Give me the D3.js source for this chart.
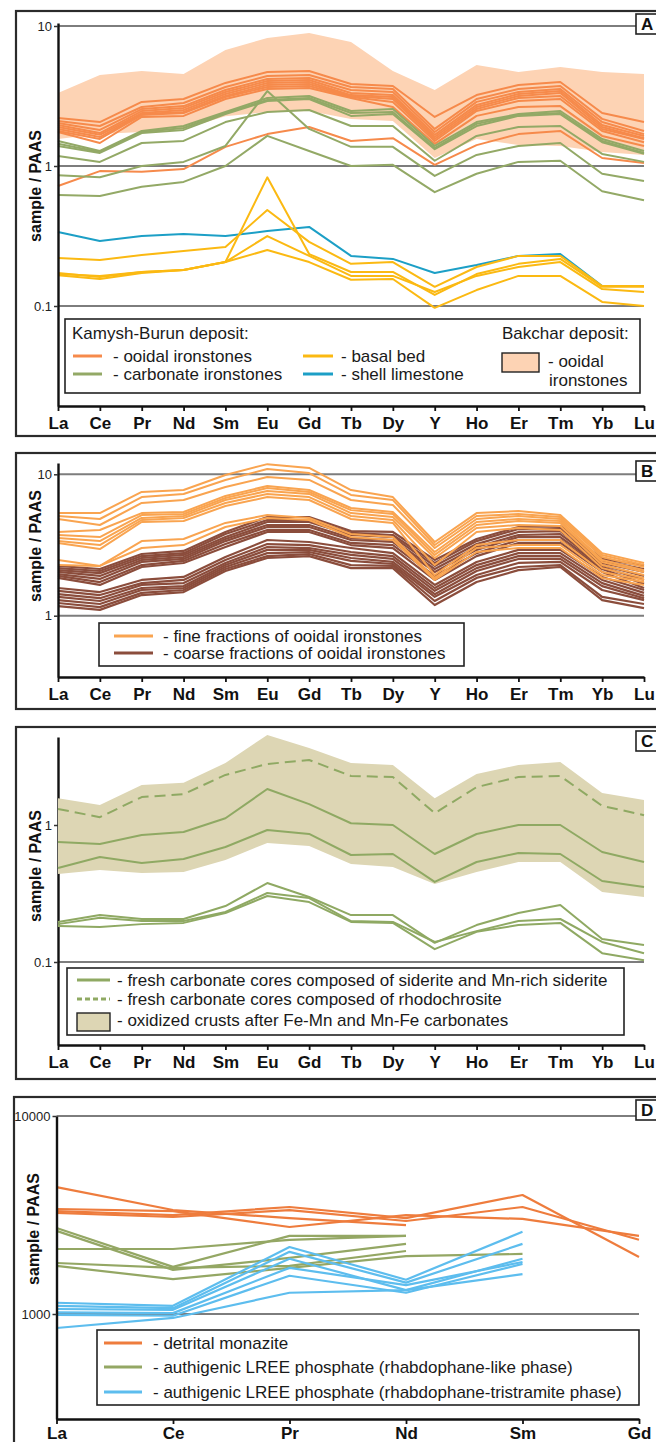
<!DOCTYPE html>
<html>
<head>
<meta charset="utf-8">
<script src="https://cdn.jsdelivr.net/npm/d3@7"></script>
<style>
  body { margin: 0; background: #fff; }
  svg { display: block; font-family: "Liberation Sans", Arial, Helvetica, sans-serif; }
</style>
</head>
<body>
<svg id="fig" width="656" height="1442"></svg>
<script>
// ---- element order on the x axes ----
const reeElements = ["La","Ce","Pr","Nd","Sm","Eu","Gd","Tb","Dy","Y","Ho","Er","Tm","Yb","Lu"];
const lreeElements = ["La","Ce","Pr","Nd","Sm","Gd"];

// ---- panel A: Kamysh-Burun and Bakchar deposits (sample / PAAS) ----
const ticksA = [10, 1, 0.1];
const tickLabelsA = ["10", "1", "0.1"];
const bakcharUpper = [3.32, 4.47, 4.77, 4.54, 6.74, 8.2, 8.9, 7.69, 4.77, 3.49, 5.27, 4.69, 5.1, 4.69, 4.54];
const bakcharLower = [1.56, 1.69, 1.75, 1.84, 2.27, 2.43, 2.47, 2.17, 2.1, 1.14, 1.56, 1.41, 1.39, 1.26, 1.2];
const kbOoidal = [
  [2.2, 2.06, 2.87, 3.01, 3.92, 4.69, 4.77, 3.85, 3.73, 2.24, 3.21, 3.79, 3.98, 2.39, 2.06],
  [2.1, 1.93, 2.64, 2.82, 3.67, 4.39, 4.47, 3.67, 3.55, 1.84, 3.01, 3.55, 3.73, 2.17, 1.78],
  [2.03, 1.81, 2.55, 2.68, 3.49, 4.18, 4.25, 3.49, 3.38, 1.75, 2.87, 3.38, 3.55, 2.06, 1.69],
  [1.96, 1.72, 2.47, 2.6, 3.38, 4.05, 4.11, 3.32, 3.21, 1.67, 2.73, 3.27, 3.43, 1.96, 1.64],
  [1.9, 1.67, 2.39, 2.51, 3.27, 3.92, 3.98, 3.21, 3.11, 1.61, 2.64, 3.16, 3.32, 1.9, 1.58],
  [1.84, 1.61, 2.35, 2.43, 3.16, 3.79, 3.85, 3.16, 3.01, 1.56, 2.55, 3.06, 3.16, 1.84, 1.56],
  [1.78, 1.56, 2.31, 2.39, 3.11, 3.67, 3.73, 3.11, 2.87, 1.51, 2.47, 2.91, 3.01, 1.78, 1.48],
  [1.75, 1.46, 2.24, 2.28, 3.01, 3.55, 3.61, 3.06, 2.64, 1.44, 2.28, 2.64, 2.68, 1.64, 1.39],
  [0.72, 0.92, 0.91, 0.95, 1.37, 1.69, 1.9, 1.51, 1.58, 1.02, 1.41, 1.69, 1.78, 1.14, 1.05]
];
const kbCarbonate = [
  [1.51, 1.28, 1.78, 1.93, 2.43, 3.06, 3.16, 2.47, 2.55, 1.39, 2.06, 2.35, 2.47, 1.56, 1.28],
  [1.44, 1.26, 1.75, 1.87, 2.39, 2.96, 3.06, 2.39, 2.43, 1.34, 2.0, 2.31, 2.39, 1.51, 1.24],
  [1.39, 1.24, 1.72, 1.81, 2.35, 2.91, 3.01, 2.28, 2.35, 1.32, 1.93, 2.28, 2.35, 1.48, 1.22],
  [1.18, 1.07, 1.46, 1.51, 2.06, 2.43, 2.51, 1.93, 1.93, 1.09, 1.64, 1.9, 1.93, 1.22, 1.07],
  [0.86, 0.83, 1.0, 1.07, 1.39, 3.43, 1.84, 1.37, 1.37, 0.85, 1.2, 1.39, 1.46, 0.88, 0.78],
  [0.62, 0.61, 0.71, 0.77, 1.0, 1.64, 1.28, 1.0, 1.02, 0.65, 0.88, 1.07, 1.09, 0.66, 0.57]
];
const kbBasal = [
  [0.22, 0.213, 0.231, 0.247, 0.264, 0.485, 0.287, 0.2, 0.206, 0.137, 0.19, 0.228, 0.228, 0.139, 0.139],
  [0.172, 0.161, 0.175, 0.181, 0.206, 0.83, 0.235, 0.175, 0.175, 0.12, 0.169, 0.2, 0.217, 0.137, 0.137],
  [0.169, 0.164, 0.175, 0.181, 0.206, 0.316, 0.228, 0.164, 0.164, 0.126, 0.164, 0.19, 0.206, 0.132, 0.126],
  [0.166, 0.156, 0.172, 0.181, 0.206, 0.251, 0.206, 0.154, 0.156, 0.097, 0.13, 0.164, 0.164, 0.107, 0.1]
];
const kbShell = [
  [0.338, 0.291, 0.316, 0.327, 0.316, 0.343, 0.367, 0.228, 0.217, 0.172, 0.196, 0.228, 0.235, 0.139, 0.139]
];
const legendA = {
  kamyshTitle: "Kamysh-Burun deposit:",
  bakcharTitle: "Bakchar deposit:",
  ooidal: "- ooidal ironstones",
  carbonate: "- carbonate ironstones",
  basal: "- basal bed",
  shell: "- shell limestone",
  bakchar1: "- ooidal",
  bakchar2: "ironstones"
};

// ---- panel B: grain-size fractions of ooidal ironstones ----
const ticksB = [10, 1];
const tickLabelsB = ["10", "1"];
const fineFractions = [
  [5.32, 5.32, 7.5, 7.74, 9.89, 11.8, 11.1, 7.74, 6.9, 3.32, 5.32, 5.5, 5.15, 2.77, 2.36],
  [5.07, 4.83, 6.9, 7.26, 9.12, 10.9, 10.2, 7.14, 6.58, 3.16, 5.07, 5.24, 4.99, 2.69, 2.28],
  [4.83, 4.38, 6.27, 6.58, 8.13, 9.57, 9.12, 6.58, 6.07, 3.01, 4.83, 5.07, 4.83, 2.6, 2.21],
  [3.91, 4.04, 5.32, 5.41, 7.03, 8.27, 7.74, 5.78, 5.41, 2.82, 4.6, 4.83, 4.67, 2.48, 2.1],
  [3.72, 3.6, 5.15, 5.24, 6.8, 8.0, 7.5, 5.58, 5.24, 2.69, 4.38, 4.67, 4.53, 2.4, 2.04],
  [3.54, 3.37, 4.91, 5.07, 6.58, 7.62, 7.26, 5.32, 4.99, 2.56, 4.17, 4.38, 4.31, 2.28, 1.94],
  [3.37, 3.16, 4.75, 4.91, 6.27, 7.26, 6.9, 5.07, 4.75, 2.28, 3.91, 4.17, 4.04, 2.17, 1.85],
  [3.27, 2.96, 4.6, 4.67, 5.97, 6.9, 6.58, 4.83, 4.53, 1.94, 3.16, 3.43, 3.43, 2.04, 1.79],
  [2.48, 2.25, 3.37, 3.49, 4.53, 5.15, 4.91, 3.78, 3.6, 1.85, 3.01, 3.16, 3.16, 1.94, 1.73],
  [2.28, 2.25, 3.01, 3.16, 4.24, 4.91, 4.75, 3.6, 3.43, 1.79, 2.82, 3.01, 3.01, 1.85, 1.65]
];
const coarseFractions = [
  [2.25, 2.14, 2.73, 2.87, 3.91, 4.99, 4.99, 3.97, 3.91, 2.48, 3.49, 4.24, 4.31, 2.52, 2.25],
  [2.17, 2.07, 2.64, 2.77, 3.78, 4.75, 4.75, 3.85, 3.72, 2.36, 3.37, 4.1, 4.17, 2.44, 2.14],
  [2.1, 2.0, 2.56, 2.69, 3.6, 4.6, 4.6, 3.72, 3.6, 2.25, 3.21, 3.91, 3.97, 2.36, 2.04],
  [2.04, 1.91, 2.48, 2.6, 3.49, 4.38, 4.38, 3.54, 3.43, 2.14, 3.06, 3.72, 3.78, 2.28, 1.91],
  [1.97, 1.82, 2.4, 2.52, 3.37, 4.24, 4.24, 3.43, 3.32, 2.04, 2.92, 3.6, 3.6, 2.21, 1.79],
  [1.91, 1.73, 2.28, 2.44, 3.21, 4.04, 4.04, 3.27, 3.16, 1.91, 2.77, 3.43, 3.43, 2.14, 1.68],
  [1.85, 1.65, 2.21, 2.36, 3.06, 3.91, 3.91, 3.16, 3.01, 1.79, 2.64, 3.27, 3.27, 2.04, 1.57],
  [1.57, 1.47, 1.79, 1.88, 2.6, 3.43, 3.32, 3.01, 2.77, 1.65, 2.4, 2.92, 2.92, 1.88, 1.52],
  [1.5, 1.4, 1.7, 1.79, 2.48, 3.21, 3.16, 2.82, 2.64, 1.57, 2.28, 2.77, 2.77, 1.79, 1.45],
  [1.42, 1.33, 1.65, 1.7, 2.36, 3.06, 3.01, 2.69, 2.52, 1.5, 2.17, 2.64, 2.64, 1.7, 1.38],
  [1.36, 1.27, 1.57, 1.62, 2.28, 2.92, 2.92, 2.56, 2.4, 1.42, 2.07, 2.52, 2.52, 1.62, 1.33],
  [1.29, 1.21, 1.52, 1.57, 2.21, 2.77, 2.82, 2.44, 2.32, 1.36, 1.94, 2.36, 2.4, 1.52, 1.29],
  [1.23, 1.15, 1.45, 1.52, 2.14, 2.64, 2.73, 2.28, 2.25, 1.27, 1.85, 2.21, 2.28, 1.36, 1.21],
  [1.17, 1.1, 1.4, 1.47, 2.07, 2.56, 2.64, 2.17, 2.17, 1.19, 1.73, 2.1, 2.21, 1.29, 1.13]
];
const legendB = {
  fine: "- fine fractions of ooidal ironstones",
  coarse: "- coarse fractions of ooidal ironstones"
};

// ---- panel C: carbonate cores and oxidized crusts ----
const ticksC = [1, 0.1];
const tickLabelsC = ["1", "0.1"];
const crustUpper = [1.57, 1.4, 1.96, 2.03, 2.84, 4.54, 3.65, 2.84, 2.74, 1.57, 2.36, 2.74, 2.88, 1.71, 1.52];
const crustLower = [0.439, 0.47, 0.447, 0.454, 0.556, 0.739, 0.703, 0.519, 0.494, 0.371, 0.454, 0.537, 0.537, 0.324, 0.298];
const rhodochrositeCores = [
  [1.31, 1.14, 1.6, 1.68, 2.32, 2.79, 2.98, 2.28, 2.24, 1.22, 1.89, 2.24, 2.28, 1.38, 1.18]
];
const sideriteCores = [
  [0.751, 0.727, 0.845, 0.889, 1.12, 1.83, 1.42, 1.03, 1.0, 0.614, 0.86, 1.0, 1.0, 0.635, 0.537],
  [0.485, 0.584, 0.528, 0.565, 0.691, 0.92, 0.86, 0.604, 0.614, 0.384, 0.537, 0.625, 0.614, 0.39, 0.353],
  [0.196, 0.22, 0.206, 0.206, 0.256, 0.377, 0.298, 0.22, 0.22, 0.138, 0.186, 0.228, 0.261, 0.147, 0.133],
  [0.189, 0.21, 0.199, 0.199, 0.232, 0.319, 0.293, 0.199, 0.196, 0.14, 0.168, 0.199, 0.206, 0.14, 0.116],
  [0.183, 0.18, 0.189, 0.193, 0.228, 0.303, 0.274, 0.196, 0.193, 0.124, 0.166, 0.186, 0.193, 0.116, 0.103]
];
const legendC = {
  siderite: "- fresh carbonate cores composed of siderite and Mn-rich siderite",
  rhodochrosite: "- fresh carbonate cores composed of rhodochrosite",
  crusts: "- oxidized crusts after Fe-Mn and Mn-Fe carbonates"
};

// ---- panel D: REE phosphates (null = not measured) ----
const ticksD = [10000, 1000];
const tickLabelsD = ["10000", "1000"];
const detritalMonazite = [
  [4375, 3350, 3050, 2810, null, null],
  [3390, 3310, 2750, 3160, 3020, 2480],
  [3310, 3160, 3470, 3050, 3990, 1940],
  [3240, 3090, 3350, 2950, 3470, 2370]
];
const rhabdophaneLike = [
  [2720, 1730, 2480, 2480, null, null],
  [2630, 1670, 1920, 2260, null, null],
  [2130, 2130, 2370, 2480, null, null],
  [1810, 1710, 1750, 2080, null, null],
  [1750, 1500, 1710, 1960, 2010, null]
];
const rhabdophaneTristramite = [
  [1140, 1100, 2180, 1490, 2600, null],
  [1100, 1070, 2060, 1440, 2260, null],
  [1060, 1050, 1900, 1320, 1900, null],
  [1020, 1010, 1710, 1400, 1830, null],
  [990, 980, 1560, 1280, 1790, null],
  [850, 955, 1280, 1320, 1590, null]
];
const legendD = {
  monazite: "- detrital monazite",
  like: "- authigenic LREE phosphate (rhabdophane-like phase)",
  tristramite: "- authigenic LREE phosphate (rhabdophane-tristramite phase)"
};

// ---- colours ----
const C = {
  ooidal: "#f68a4b",
  carbonate: "#93a966",
  basal: "#fbb912",
  shell: "#1c9fc6",
  bakchar: "#fdd3b4",
  fine: "#f9a450",
  coarse: "#8b4d3c",
  olive: "#8fa963",
  crust: "#ddd6b4",
  monazite: "#ee7c3d",
  rhabd: "#94a764",
  trist: "#5dbdee",
  grid: "#7d7d7d",
  frame: "#2b2b2b"
};

const svg = d3.select("#fig");

// Draws frame, grid, axes and returns the scales for one panel
function makePanel(p) {
  const g = svg.append("g");
  g.append("rect")
    .attr("x", p.frame[0]).attr("y", p.frame[1])
    .attr("width", p.frame[2]).attr("height", p.frame[3])
    .attr("fill", "#fff").attr("stroke", C.frame).attr("stroke-width", 2.2);

  const x = d3.scalePoint().domain(p.elements).range(p.xRange);
  const yRef = d3.scaleLog().domain(p.refDomain).range(p.refRange);
  const y = d3.scaleLog()
    .domain([yRef.invert(p.yExtent[0]), yRef.invert(p.yExtent[1])])
    .range(p.yExtent);

  const grid = g.append("g");
  grid.selectAll("line").data(p.ticks).join("line")
    .attr("x1", p.xRange[0]).attr("x2", p.gridEnd)
    .attr("y1", d => y(d)).attr("y2", d => y(d))
    .attr("stroke", C.grid).attr("stroke-width", 2);

  const layer = g.append("g");
  const top = g.append("g");

  // y axis
  const ya = top.append("g").attr("transform", `translate(${p.xRange[0]},0)`)
    .call(d3.axisLeft(y).tickValues(p.ticks)
      .tickFormat((d, i) => p.tickLabels[i]).tickSize(4).tickSizeOuter(0).tickPadding(2));
  ya.select(".domain").attr("stroke", "#111").attr("stroke-width", 2.4);
  ya.selectAll(".tick line").attr("stroke", "#333").attr("stroke-width", 1.5);
  ya.selectAll(".tick text").attr("font-size", 13).attr("fill", "#222")
    .attr("font-family", "Liberation Sans, Arial, sans-serif");

  // x axis
  const xa = top.append("g").attr("transform", `translate(0,${p.yExtent[0]})`)
    .call(d3.axisBottom(x).tickSize(5).tickSizeOuter(0).tickPadding(p.xLabelPad));
  xa.select(".domain").attr("stroke", "#111").attr("stroke-width", 2.4);
  xa.selectAll(".tick line").attr("stroke", "#111").attr("stroke-width", 1.8);
  xa.selectAll(".tick text").attr("font-size", 17).attr("font-weight", "bold")
    .attr("fill", "#111").attr("font-family", "Liberation Sans, Arial, sans-serif");

  // axis title
  top.append("text")
    .attr("transform", `translate(${p.titleX},${p.titleY}) rotate(-90)`)
    .attr("text-anchor", "middle").attr("dominant-baseline", "central")
    .attr("font-size", 16).attr("font-weight", "bold").attr("fill", "#111")
    .text("sample / PAAS");

  // panel letter
  top.append("rect").attr("x", 636).attr("y", p.letterY)
    .attr("width", 40).attr("height", 20)
    .attr("fill", "#fff").attr("stroke", "#222").attr("stroke-width", 1.6);
  top.append("text").attr("x", 641).attr("y", p.letterY + 16)
    .attr("font-size", 17).attr("font-weight", "bold").attr("fill", "#111")
    .text(p.letter);

  return { g, layer, top, x, y, elements: p.elements };
}

function drawLines(P, rows, color, width, dash) {
  const line = d3.line()
    .defined(d => d != null)
    .x((d, i) => P.x(P.elements[i]))
    .y(d => P.y(d));
  P.layer.append("g").selectAll("path").data(rows).join("path")
    .attr("d", line)
    .attr("fill", "none").attr("stroke", color)
    .attr("stroke-width", width).attr("stroke-linejoin", "round")
    .attr("stroke-dasharray", dash || null);
}

function drawBand(P, upper, lower, color) {
  const area = d3.area()
    .x((d, i) => P.x(P.elements[i]))
    .y0((d, i) => P.y(lower[i]))
    .y1(d => P.y(d));
  P.layer.append("path").datum(upper).attr("d", area).attr("fill", color);
}

function legendBox(P, x, y, w, h) {
  P.top.append("rect").attr("x", x).attr("y", y).attr("width", w).attr("height", h)
    .attr("fill", "#fff").attr("stroke", "#222").attr("stroke-width", 1.6);
}
function legendLine(P, x1, x2, y, color, dash) {
  P.top.append("line").attr("x1", x1).attr("x2", x2).attr("y1", y).attr("y2", y)
    .attr("stroke", color).attr("stroke-width", 3)
    .attr("stroke-dasharray", dash || null);
}
function legendText(P, x, y, t) {
  P.top.append("text").attr("x", x).attr("y", y)
    .attr("font-size", 17).attr("fill", "#1a1a1a").text(t);
}

// ---------------- Panel A ----------------
const PA = makePanel({
  elements: reeElements, frame: [16, 11, 680, 425],
  xRange: [58, 644], refDomain: [0.1, 10], refRange: [306, 26], yExtent: [406, 23],
  ticks: ticksA, tickLabels: tickLabelsA, gridEnd: 644, xLabelPad: 6,
  titleX: 35, titleY: 186, letter: "A", letterY: 14
});
drawBand(PA, bakcharUpper, bakcharLower, C.bakchar);
drawLines(PA, kbOoidal, C.ooidal, 2);
drawLines(PA, kbCarbonate, C.carbonate, 2);
drawLines(PA, kbShell, C.shell, 2);
drawLines(PA, kbBasal, C.basal, 2);

legendBox(PA, 65, 319, 575, 74);
legendText(PA, 72, 339, legendA.kamyshTitle);
legendText(PA, 502, 339, legendA.bakcharTitle);
legendLine(PA, 73, 102, 356, C.ooidal);
legendText(PA, 113, 362, legendA.ooidal);
legendLine(PA, 73, 102, 374, C.carbonate);
legendText(PA, 113, 380, legendA.carbonate);
legendLine(PA, 303, 333, 356, C.basal);
legendText(PA, 341, 362, legendA.basal);
legendLine(PA, 303, 333, 374, C.shell);
legendText(PA, 341, 380, legendA.shell);
PA.top.append("rect").attr("x", 502).attr("y", 353).attr("width", 37).attr("height", 19)
  .attr("fill", C.bakchar).attr("stroke", "#222").attr("stroke-width", 1.4);
legendText(PA, 548, 367, legendA.bakchar1);
legendText(PA, 549, 386, legendA.bakchar2);

// ---------------- Panel B ----------------
const PB = makePanel({
  elements: reeElements, frame: [16, 453, 680, 256],
  xRange: [58, 644], refDomain: [1, 10], refRange: [615.7, 474.3], yExtent: [677, 463],
  ticks: ticksB, tickLabels: tickLabelsB, gridEnd: 644, xLabelPad: 6,
  titleX: 35, titleY: 546, letter: "B", letterY: 461
});
drawLines(PB, coarseFractions, C.coarse, 2.2);
drawLines(PB, fineFractions, C.fine, 2);

legendBox(PB, 99, 623, 365, 43);
legendLine(PB, 114, 153, 636, C.fine);
legendText(PB, 163, 642, legendB.fine);
legendLine(PB, 114, 153, 653, C.coarse);
legendText(PB, 163, 659, legendB.coarse);

// ---------------- Panel C ----------------
const PC = makePanel({
  elements: reeElements, frame: [16, 727, 680, 352],
  xRange: [58, 644], refDomain: [0.1, 1], refRange: [962, 825], yExtent: [1045, 737],
  ticks: ticksC, tickLabels: tickLabelsC, gridEnd: 644, xLabelPad: 6,
  titleX: 35, titleY: 866, letter: "C", letterY: 731
});
drawBand(PC, crustUpper, crustLower, C.crust);
PC.layer.raise();
drawLines(PC, rhodochrositeCores, C.olive, 2, "11,6");
drawLines(PC, sideriteCores, C.olive, 2);

legendBox(PC, 67, 968, 557, 67);
legendLine(PC, 77, 110, 980, C.olive);
legendText(PC, 117, 986, legendC.siderite);
legendLine(PC, 77, 110, 999, C.olive, "5,3");
legendText(PC, 117, 1005, legendC.rhodochrosite);
PC.top.append("rect").attr("x", 77).attr("y", 1013).attr("width", 33).attr("height", 18)
  .attr("fill", C.crust).attr("stroke", "#222").attr("stroke-width", 1.4);
legendText(PC, 117, 1026, legendC.crusts);

// ---------------- Panel D ----------------
const PD = makePanel({
  elements: lreeElements, frame: [14, 1097, 680, 400],
  xRange: [56.5, 639], refDomain: [1000, 10000], refRange: [1314, 1116], yExtent: [1419, 1116],
  ticks: ticksD, tickLabels: tickLabelsD, gridEnd: 639, xLabelPad: 3,
  titleX: 33, titleY: 1229, letter: "D", letterY: 1100
});
drawLines(PD, detritalMonazite, C.monazite, 2.2);
drawLines(PD, rhabdophaneLike, C.rhabd, 2.2);
drawLines(PD, rhabdophaneTristramite, C.trist, 2.2);

legendBox(PD, 97, 1330, 542, 75);
legendLine(PD, 104, 142, 1343, C.monazite);
legendText(PD, 153, 1349, legendD.monazite);
legendLine(PD, 104, 142, 1367, C.rhabd);
legendText(PD, 153, 1373, legendD.like);
legendLine(PD, 104, 142, 1392, C.trist);
legendText(PD, 153, 1398, legendD.tristramite);
</script>
</body>
</html>
